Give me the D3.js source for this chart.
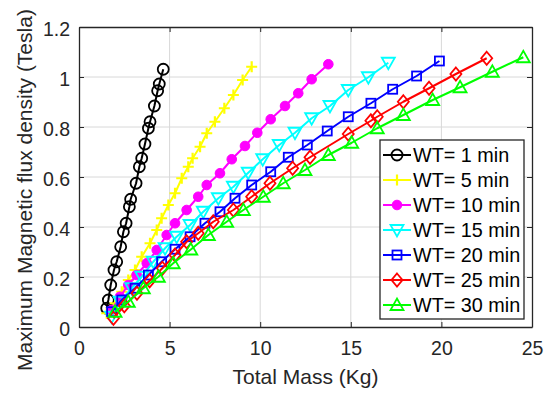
<!DOCTYPE html>
<html>
<head>
<meta charset="utf-8">
<script src="https://cdn.jsdelivr.net/npm/d3@7"></script>
<style>
  body { margin: 0; background: #fff; }
  svg { display: block; font-family: "Liberation Sans", Arial, sans-serif; }
</style>
</head>
<body>
<div id="chart"></div>
<script>
// data (Total Mass in Kg, flux density in Tesla)
const wt1X = [1.53, 1.62, 1.75, 1.93, 2.08, 2.30, 2.45, 2.60, 2.78, 2.85, 3.15, 3.33, 3.46, 3.64, 3.83, 3.92, 4.16, 4.34, 4.43, 4.65]
const wt1Y = [0.075, 0.108, 0.168, 0.228, 0.261, 0.321, 0.381, 0.415, 0.481, 0.511, 0.575, 0.641, 0.675, 0.732, 0.795, 0.821, 0.884, 0.945, 0.972, 1.031]

const wt5X = [1.53, 1.99, 2.36, 2.72, 3.09, 3.46, 3.92, 4.29, 4.56, 4.93, 5.30, 5.67, 6.03, 6.27, 6.68, 7.05, 7.50, 8.02, 8.52, 9.03, 9.53]
const wt5Y = [0.055, 0.095, 0.141, 0.188, 0.228, 0.281, 0.335, 0.388, 0.435, 0.488, 0.535, 0.595, 0.641, 0.675, 0.721, 0.775, 0.821, 0.875, 0.928, 0.988, 1.041]

const wt10X = [1.80, 2.26, 2.72, 3.18, 3.74, 4.29, 4.84, 5.30, 5.94, 6.58, 7.05, 7.78, 8.43, 9.16, 9.84, 10.58, 11.37, 12.10, 12.84, 13.76]
const wt10Y = [0.068, 0.121, 0.168, 0.208, 0.255, 0.308, 0.368, 0.415, 0.468, 0.521, 0.568, 0.615, 0.671, 0.724, 0.777, 0.831, 0.884, 0.935, 0.991, 1.051]

const wt15X = [1.80, 2.26, 2.91, 3.46, 4.10, 4.75, 5.39, 6.13, 6.86, 7.69, 8.52, 9.34, 10.14, 11.05, 11.92, 12.84, 13.85, 14.86, 15.97, 17.07]
const wt15Y = [0.041, 0.101, 0.155, 0.201, 0.261, 0.315, 0.361, 0.408, 0.461, 0.515, 0.561, 0.617, 0.671, 0.728, 0.777, 0.835, 0.884, 0.948, 0.999, 1.057]

const wt20X = [1.80, 2.36, 3.09, 3.83, 4.56, 5.30, 6.13, 6.95, 7.78, 8.61, 9.53, 10.58, 11.55, 12.60, 13.70, 14.86, 16.11, 17.31, 18.63, 19.89]
const wt20Y = [0.061, 0.108, 0.155, 0.208, 0.261, 0.311, 0.361, 0.415, 0.461, 0.515, 0.568, 0.621, 0.679, 0.728, 0.784, 0.841, 0.895, 0.951, 1.004, 1.064]

const wt25X = [1.90, 2.50, 3.20, 3.90, 4.60, 5.30, 5.94, 6.58, 7.41, 8.52, 9.53, 10.54, 11.79, 12.75, 14.86, 16.11, 16.46, 17.90, 19.32, 20.80, 22.50]
const wt25Y = [0.035, 0.085, 0.135, 0.185, 0.235, 0.288, 0.341, 0.375, 0.421, 0.468, 0.521, 0.575, 0.635, 0.679, 0.772, 0.825, 0.841, 0.901, 0.955, 1.012, 1.075]

const wt30X = [1.99, 2.72, 3.55, 4.38, 5.20, 6.17, 7.14, 8.15, 9.07, 10.17, 11.27, 12.47, 13.76, 15.05, 16.46, 17.90, 19.52, 21.03, 22.81, 24.52]
const wt30Y = [0.061, 0.101, 0.155, 0.201, 0.255, 0.310, 0.368, 0.421, 0.468, 0.521, 0.575, 0.628, 0.688, 0.737, 0.795, 0.848, 0.908, 0.959, 1.021, 1.079]

const labels = ["WT= 1 min", "WT= 5 min", "WT= 10 min", "WT= 15 min", "WT= 20 min", "WT= 25 min", "WT= 30 min"]
const xTicks = [0, 5, 10, 15, 20, 25]
const yTicks = [0, 0.2, 0.4, 0.6, 0.8, 1, 1.2]

const seriesX = [wt1X, wt5X, wt10X, wt15X, wt20X, wt25X, wt30X]
const seriesY = [wt1Y, wt5Y, wt10Y, wt15Y, wt20Y, wt25Y, wt30Y]
const colors = ["#000000", "#ffff00", "#ff00ff", "#00ffff", "#0000ff", "#ff0000", "#00ff00"]
const markers = ["circle", "plus", "dot", "tdown", "square", "diamond", "tup"]

const series = labels.map((name, i) => ({
  name, color: colors[i], marker: markers[i],
  points: seriesX[i].map((x, j) => ({x, y: seriesY[i][j]}))
}))

const W = 545, H = 393
const margin = {top: 27, right: 13, bottom: 66, left: 79}
const tickFont = 19.5, labelFont = 21

const svg = d3.select("#chart").append("svg")
  .attr("width", W)
  .attr("height", H)

const x = d3.scaleLinear().domain([0, 25]).range([margin.left, W - margin.right])
const y = d3.scaleLinear().domain([0, 1.2]).range([H - margin.bottom, margin.top])

// grid
svg.append("g")
  .attr("stroke", "#d8d8d8")
  .attr("stroke-width", 1)
  .call(g => g.selectAll("line.v").data(xTicks.slice(1, -1)).join("line")
    .attr("x1", d => x(d)).attr("x2", d => x(d))
    .attr("y1", y(0)).attr("y2", y(1.2)))
  .call(g => g.selectAll("line.h").data(yTicks.slice(1, -1)).join("line")
    .attr("x1", x(0)).attr("x2", x(25))
    .attr("y1", d => y(d)).attr("y2", d => y(d)))

// axes, ticks pointing inward like matlab
const axisColor = "#262626"
const xAxis = svg.append("g")
  .attr("transform", `translate(0,${y(0)})`)
  .call(d3.axisBottom(x).tickValues(xTicks).tickSize(-5).tickPadding(14).tickSizeOuter(0))
const xTop = svg.append("g")
  .attr("transform", `translate(0,${y(1.2)})`)
  .call(d3.axisTop(x).tickValues(xTicks).tickSize(-5).tickFormat("").tickSizeOuter(0))
const yAxis = svg.append("g")
  .attr("transform", `translate(${x(0)},0)`)
  .call(d3.axisLeft(y).tickValues(yTicks).tickSize(-5).tickPadding(9).tickSizeOuter(0)
    .tickFormat(d => d3.format("~g")(d)))
const yRight = svg.append("g")
  .attr("transform", `translate(${x(25)},0)`)
  .call(d3.axisRight(y).tickValues(yTicks).tickSize(-5).tickFormat("").tickSizeOuter(0))

for (const a of [xAxis, xTop, yAxis, yRight]) {
  a.select(".domain").attr("stroke", axisColor).attr("stroke-width", 1.3)
  a.selectAll(".tick line").attr("stroke", axisColor).attr("stroke-width", 1)
  a.selectAll("text").attr("fill", axisColor).attr("font-size", tickFont)
    .attr("font-family", "Liberation Sans, Arial, sans-serif")
}
xAxis.selectAll("text").attr("dy", "0.71em")
yAxis.selectAll("text").attr("dy", "0.42em")

// axis labels
svg.append("text")
  .attr("x", (x(0) + x(25)) / 2)
  .attr("y", 384)
  .attr("text-anchor", "middle")
  .attr("fill", axisColor)
  .attr("font-size", labelFont)
  .text("Total Mass (Kg)")

svg.append("text")
  .attr("transform", "translate(32,190) rotate(-90)")
  .attr("text-anchor", "middle")
  .attr("fill", axisColor)
  .attr("font-size", labelFont)
  .text("Maximum Magnetic flux density (Tesla)")

// markers
function drawMarker(g, type, color) {
  const sw = 1.8
  if (type === "circle") {
    g.append("circle").attr("r", 5.5).attr("fill", "none").attr("stroke", color).attr("stroke-width", sw)
  } else if (type === "dot") {
    g.append("circle").attr("r", 4.8).attr("fill", color).attr("stroke", color).attr("stroke-width", 1)
  } else if (type === "plus") {
    g.append("path").attr("d", "M-5.5,0H5.5M0,-5.5V5.5").attr("stroke", color).attr("stroke-width", 2.2)
  } else if (type === "square") {
    g.append("rect").attr("x", -4.5).attr("y", -4.5).attr("width", 9).attr("height", 9)
      .attr("fill", "none").attr("stroke", color).attr("stroke-width", sw)
  } else if (type === "diamond") {
    g.append("path").attr("d", "M0,-6.5L5.5,0L0,6.5L-5.5,0Z").attr("fill", "none").attr("stroke", color).attr("stroke-width", sw)
  } else if (type === "tdown") {
    g.append("path").attr("d", "M-6.5,-5L6.5,-5L0,6.5Z").attr("fill", "none").attr("stroke", color).attr("stroke-width", sw)
  } else if (type === "tup") {
    g.append("path").attr("d", "M-6.5,5L6.5,5L0,-6.5Z").attr("fill", "none").attr("stroke", color).attr("stroke-width", sw)
  }
}

const line = d3.line().x(d => x(d.x)).y(d => y(d.y))

const plot = svg.append("g")
for (const s of series) {
  const g = plot.append("g")
  g.append("path")
    .attr("d", line(s.points))
    .attr("fill", "none")
    .attr("stroke", s.color)
    .attr("stroke-width", 2)
    .attr("stroke-linejoin", "round")
  for (const p of s.points) {
    const m = g.append("g").attr("transform", `translate(${x(p.x)},${y(p.y)})`)
    drawMarker(m, s.marker, s.color)
  }
}

// legend
const lg = svg.append("g").attr("transform", "translate(380,140)")
lg.append("rect")
  .attr("width", 144).attr("height", 179)
  .attr("fill", "#fff")
  .attr("stroke", axisColor)
  .attr("stroke-width", 1.3)
series.forEach((s, i) => {
  const row = lg.append("g").attr("transform", `translate(0,${15 + i * 25})`)
  row.append("line").attr("x1", 3).attr("x2", 31).attr("stroke", s.color).attr("stroke-width", 2)
  const m = row.append("g").attr("transform", "translate(17,0)")
  drawMarker(m, s.marker, s.color)
  row.append("text")
    .attr("x", 33)
    .attr("dy", "0.36em")
    .attr("fill", "#000")
    .attr("font-size", 19.8)
    .text(s.name)
})
</script>
</body>
</html>
